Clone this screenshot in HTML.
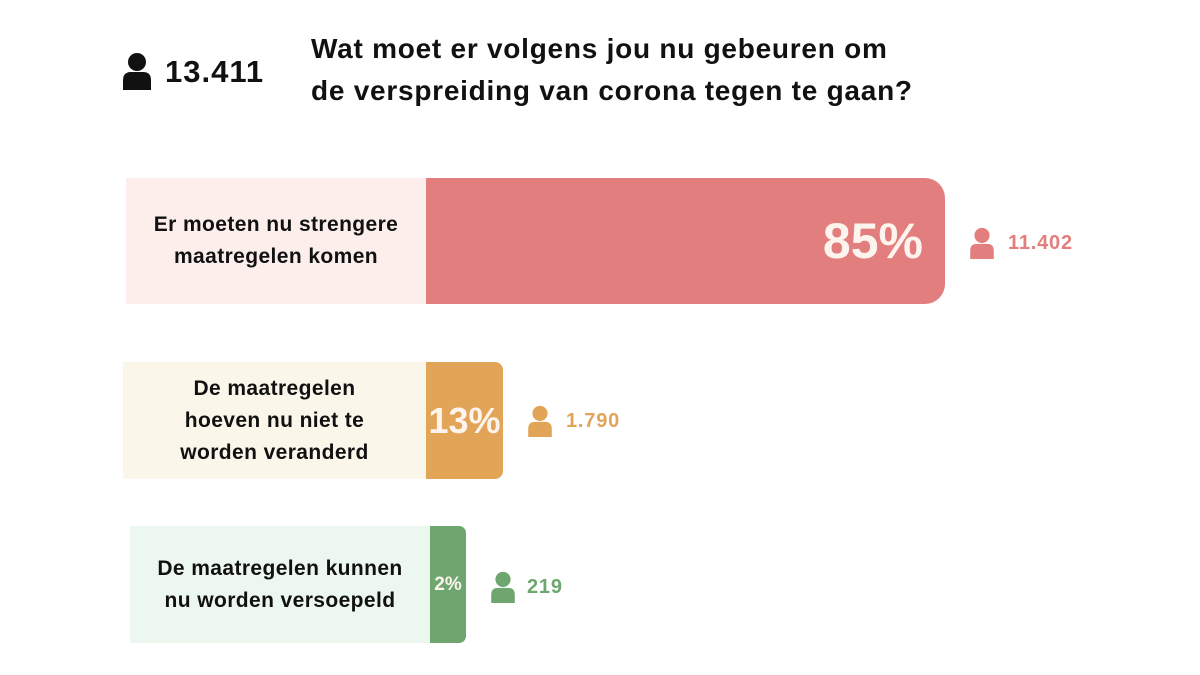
<!DOCTYPE html>
<html><head><meta charset="utf-8"><style>
body{margin:0;width:1200px;height:675px;background:#fff;position:relative;overflow:hidden;font-family:"Liberation Sans",sans-serif;font-weight:bold}
.a{position:absolute}
.lab{position:absolute;display:flex;align-items:center;justify-content:center;text-align:center;font-size:21px;letter-spacing:0.4px;line-height:32px;color:#111}
.bar{position:absolute;display:flex;align-items:center;justify-content:flex-end;color:#fdf4ee}
</style></head><body>
<svg class="a" style="left:122px;top:52px" width="30" height="38" viewBox="0 0 30 38"><circle cx="15" cy="10" r="9" fill="#111"/><path d="M1 38 V28 Q1 20 9 20 H21 Q29 20 29 28 V38 Z" fill="#111"/></svg>
<div class="a" style="left:165px;top:54px;font-size:31px;letter-spacing:1px;color:#111">13.411</div>
<div class="a" style="left:311px;top:28px;font-size:28px;letter-spacing:0.75px;line-height:42px;color:#111">Wat moet er volgens jou nu gebeuren om<br>de verspreiding van corona tegen te gaan?</div>

<div class="lab" style="left:126px;top:178px;width:300px;height:126px;background:#fbeeeb">Er moeten nu strengere<br>maatregelen komen</div>
<div class="bar" style="left:426px;top:178px;width:519px;height:126px;background:#e27f7e;border-radius:0 20px 20px 0;font-size:50px"><span style="margin-right:22px">85%</span></div>
<svg class="a" style="left:969px;top:227px" width="26" height="32" viewBox="0 0 30 38"><circle cx="15" cy="10" r="9" fill="#e27f7e"/><path d="M1 38 V28 Q1 20 9 20 H21 Q29 20 29 28 V38 Z" fill="#e27f7e"/></svg>
<div class="a" style="left:1008px;top:232px;font-size:20px;letter-spacing:0.8px;color:#e27f7e">11.402</div>

<div class="lab" style="left:123px;top:362px;width:303px;height:117px;background:#faf6ea">De maatregelen<br>hoeven nu niet te<br>worden veranderd</div>
<div class="bar" style="left:426px;top:362px;width:77px;height:117px;background:#e2a557;border-radius:0 8px 8px 0;font-size:36px;justify-content:center">13%</div>
<svg class="a" style="left:527px;top:405px" width="26" height="32" viewBox="0 0 30 38"><circle cx="15" cy="10" r="9" fill="#e2a557"/><path d="M1 38 V28 Q1 20 9 20 H21 Q29 20 29 28 V38 Z" fill="#e2a557"/></svg>
<div class="a" style="left:566px;top:410px;font-size:20px;letter-spacing:0.8px;color:#e2a557">1.790</div>

<div class="lab" style="left:130px;top:526px;width:300px;height:117px;background:#ecf8ef">De maatregelen kunnen<br>nu worden versoepeld</div>
<div class="bar" style="left:430px;top:526px;width:36px;height:117px;background:#6fa56f;border-radius:0 7px 7px 0;font-size:19px;justify-content:center">2%</div>
<svg class="a" style="left:490px;top:571px" width="26" height="32" viewBox="0 0 30 38"><circle cx="15" cy="10" r="9" fill="#6fa56f"/><path d="M1 38 V28 Q1 20 9 20 H21 Q29 20 29 28 V38 Z" fill="#6fa56f"/></svg>
<div class="a" style="left:527px;top:576px;font-size:20px;letter-spacing:0.8px;color:#6fa56f">219</div>
</body></html>
